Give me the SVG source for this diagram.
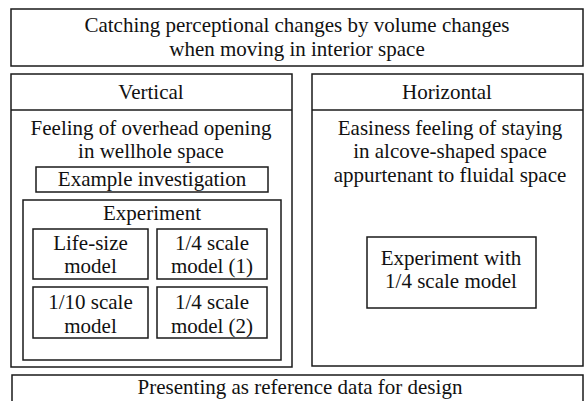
<svg xmlns="http://www.w3.org/2000/svg" width="584" height="401" viewBox="0 0 584 401">
<style>
rect{fill:none;stroke:#1a1a1a;stroke-width:1.5}
line{stroke:#1a1a1a;stroke-width:1.5}
text{font-family:"Liberation Serif","Times New Roman",serif;font-size:21px;fill:#111;text-anchor:middle}
</style>
<rect x="0" y="0" width="584" height="401" style="fill:#fff;stroke:none"/>
<g id="top">
<rect x="11" y="9" width="572" height="57"/>
<text x="297" y="32">Catching perceptional changes by volume changes</text>
<text x="297" y="56">when moving in interior space</text>
</g>
<g id="vertical">
<rect x="11" y="74" width="281" height="293"/>
<line x1="11" y1="110" x2="292" y2="110"/>
<text x="151" y="99">Vertical</text>
<text x="151" y="135">Feeling of overhead opening</text>
<text x="151" y="158">in wellhole space</text>
</g>
<g id="example">
<rect x="36" y="167" width="232" height="25"/>
<text x="152" y="186">Example investigation</text>
</g>
<g id="experiment">
<rect x="23" y="200" width="258" height="160"/>
<text x="152" y="220">Experiment</text>
</g>
<g id="lifesize">
<rect x="33" y="229" width="115" height="50"/>
<text x="90.5" y="250">Life-size</text>
<text x="90.5" y="273">model</text>
</g>
<g id="scale4a">
<rect x="157" y="229" width="110" height="50"/>
<text x="212" y="250">1/4 scale</text>
<text x="212" y="273">model (1)</text>
</g>
<g id="scale10">
<rect x="33" y="287" width="115" height="51"/>
<text x="90.5" y="309">1/10 scale</text>
<text x="90.5" y="333">model</text>
</g>
<g id="scale4b">
<rect x="157" y="287" width="110" height="51"/>
<text x="212" y="309">1/4 scale</text>
<text x="212" y="333">model (2)</text>
</g>
<g id="horizontal">
<rect x="312" y="74" width="271" height="292"/>
<line x1="312" y1="110" x2="583" y2="110"/>
<text x="447" y="99">Horizontal</text>
<text x="450" y="135">Easiness feeling of staying</text>
<text x="450" y="158">in alcove-shaped space</text>
<text x="450" y="182">appurtenant to fluidal space</text>
</g>
<g id="experiment-quarter">
<rect x="367" y="237" width="169" height="71"/>
<text x="451" y="265">Experiment with</text>
<text x="451" y="288">1/4 scale model</text>
</g>
<g id="bottom">
<rect x="12" y="375" width="571" height="40"/>
<text x="300" y="394">Presenting as reference data for design</text>
</g>
<g id="connectors"></g>
</svg>
